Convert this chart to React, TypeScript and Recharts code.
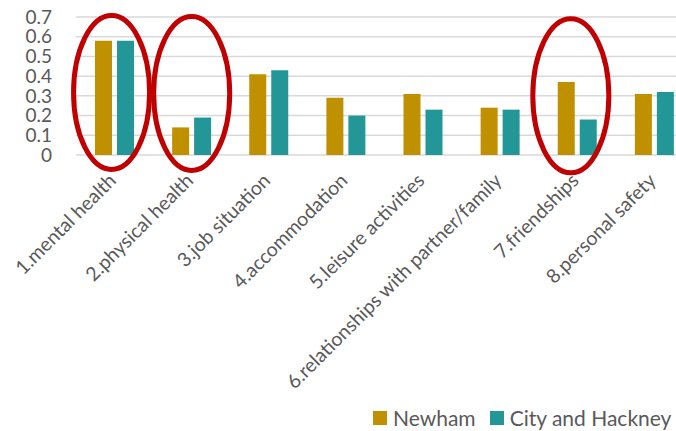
import { BarChart, Bar, XAxis, YAxis, CartesianGrid, ReferenceDot } from "recharts";

const CATEGORIES = [
    "1.mental health",
    "2.physical health",
    "3.job situation",
    "4.accommodation",
    "5.leisure activities",
    "6.relationships with partner/family",
    "7.friendships",
    "8.personal safety",
];
const NEWHAM = [0.58, 0.14, 0.41, 0.29, 0.31, 0.24, 0.37, 0.31];
const CITY_HACKNEY = [0.58, 0.19, 0.43, 0.20, 0.23, 0.23, 0.18, 0.32];
const Y_TICKS = [0, 0.1, 0.2, 0.3, 0.4, 0.5, 0.6, 0.7];

// circled categories (red ellipses drawn over the bars)
const HIGHLIGHTS = ["1.mental health", "2.physical health", "7.friendships"];
const HIGHLIGHT_Y = [0.317, 0.312, 0.3];
const HIGHLIGHT_DX = [-3, 0, -6.5];

const SERIES = [
    { key: "newham", name: "Newham", color: "#BF9000" },
    { key: "hackney", name: "City and Hackney", color: "#239797" },
];

const data = CATEGORIES.map((name, i) => ({
    name,
    newham: NEWHAM[i],
    hackney: CITY_HACKNEY[i],
}));

const FONT = "Lato, 'Liberation Sans', sans-serif";
const TEXT = "#595959";

// rotated category label, pulled back a little along its own direction
function CategoryTick({ x, y, payload }: any) {
    return (
        <text
            x={x}
            y={y}
            dx={-10}
            dy="0.71em"
            transform={`rotate(-45, ${x}, ${y})`}
            textAnchor="end"
            fill={TEXT}
            fontSize={19.5}
            fontFamily={FONT}
        >
            {payload.value}
        </text>
    );
}

export default function App() {
    return (
        <div style={{ position: "absolute", left: 0, top: 0, width: 676, height: 431, overflow: "hidden", background: "#fff", fontFamily: FONT }}>
            <BarChart
                width={693}
                height={431}
                data={data}
                margin={{ top: 17, right: 0, left: 0, bottom: 0 }}
                barSize={17}
                barGap={5}
            >
                <CartesianGrid vertical={false} stroke="#D9D9D9" strokeWidth={1.5} />
                <XAxis
                    dataKey="name"
                    height={276}
                    interval={0}
                    axisLine={false}
                    tickLine={false}
                    tickSize={0}
                    tickMargin={10}
                    tick={<CategoryTick />}
                />
                <YAxis
                    width={76}
                    domain={[0, 0.7]}
                    ticks={Y_TICKS}
                    interval={0}
                    axisLine={false}
                    tickLine={false}
                    tickSize={0}
                    tickMargin={24}
                    tick={{ fill: TEXT, fontSize: 19, fontFamily: FONT }}
                />
                {SERIES.map((s) => (
                    <Bar key={s.key} dataKey={s.key} name={s.name} fill={s.color} isAnimationActive={false} />
                ))}
                {HIGHLIGHTS.map((cat, i) => (
                    <ReferenceDot
                        key={cat}
                        x={cat}
                        y={HIGHLIGHT_Y[i]}
                        r={1}
                        ifOverflow="visible"
                        shape={(p: any) => (
                            <ellipse cx={p.cx + HIGHLIGHT_DX[i]} cy={p.cy} rx={38} ry={77} fill="none" stroke="#C00000" strokeWidth={5} />
                        )}
                    />
                ))}
            </BarChart>
            <div style={{ position: "absolute", left: 373, top: 405, display: "flex", alignItems: "center", whiteSpace: "nowrap", fontSize: 21, color: TEXT }}>
                {SERIES.map((s) => (
                    <div key={s.key} style={{ display: "flex", alignItems: "center", marginRight: 14 }}>
                        <span style={{ display: "inline-block", width: 14, height: 14, background: s.color, marginRight: 6 }} />
                        <span>{s.name}</span>
                    </div>
                ))}
            </div>
        </div>
    );
}
